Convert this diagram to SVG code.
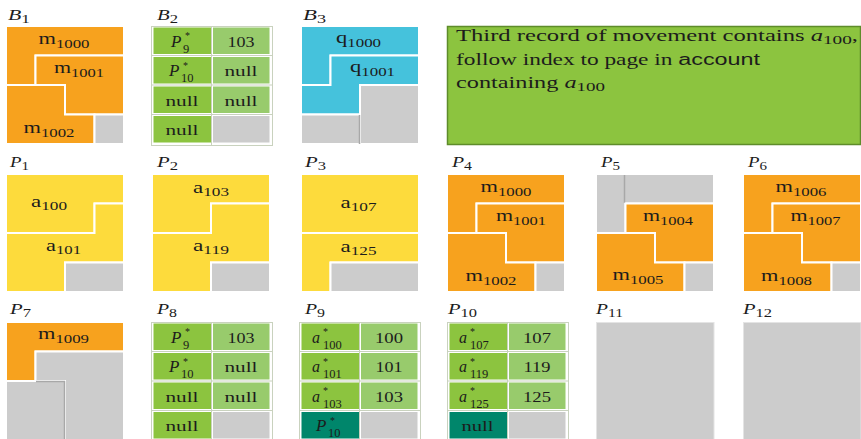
<svg xmlns="http://www.w3.org/2000/svg" width="861" height="439" viewBox="0 0 861 439">
<style>
.t{font-family:"Liberation Serif","Times New Roman",serif;font-size:16px;fill:#1c1c1c}
.it{font-style:italic}
.sb{font-size:12px;font-style:normal}
.st{font-size:10px;font-style:normal}
.su{font-size:12.5px;font-style:normal}
.ss{font-family:"Liberation Sans",Arial,sans-serif}
.lb{font-size:15px;font-style:italic}
.tx{font-size:15px}
.bp{font-size:17px;font-style:italic}
.or{fill:#F7A21E}.ye{fill:#FDDB3C}.cy{fill:#45C2DC}.gy{fill:#CCCCCC}
.dg{fill:#8CC43F}.lg{fill:#98CB6C}.tl{fill:#00866B}
.r{stroke:#fff;stroke-width:2}
.dk{stroke:#A8A8A8;stroke-width:1.5;fill:none}
.frame{fill:none;stroke:#C9D2BE;stroke-width:1}
</style>
<rect width="861" height="439" fill="#fff"/>
<g id="connectors"/>

<!-- B1 -->
<g id="B1" transform="translate(6,26)">
<text class="t lb" x="2" y="-6" textLength="22" lengthAdjust="spacingAndGlyphs">B<tspan class="sb" dy="3">1</tspan></text>
<polygon class="or r" points="0,0 118,0 118,29.5 29.5,29.5 29.5,59 0,59"/>
<polygon class="or r" points="29.5,29.5 118,29.5 118,88.5 59,88.5 59,59 29.5,59"/>
<polygon class="or r" points="0,59 59,59 59,88.5 88.5,88.5 88.5,118 0,118"/>
<rect class="gy r" x="88.5" y="88.5" width="29.5" height="29.5"/>
<text class="t" x="58" y="17.5" text-anchor="middle" textLength="51" lengthAdjust="spacingAndGlyphs">m<tspan class="sb" dy="4">1000</tspan></text>
<text class="t" x="73" y="46.5" text-anchor="middle" textLength="50" lengthAdjust="spacingAndGlyphs">m<tspan class="sb" dy="4">1001</tspan></text>
<text class="t" x="43" y="107" text-anchor="middle" textLength="51" lengthAdjust="spacingAndGlyphs">m<tspan class="sb" dy="4">1002</tspan></text>
</g>

<!-- B2 -->
<g id="B2" transform="translate(151,26)">
<text class="t lb" x="6" y="-6" textLength="21" lengthAdjust="spacingAndGlyphs">B<tspan class="sb" dy="3">2</tspan></text>
<rect class="frame" x="0.5" y="0.5" width="121" height="119"/>
<path class="frame" d="M60.5 0.5V119.5M0.5 29.5H121.5M0.5 59H121.5M0.5 88.5H121.5"/>
<rect class="dg" x="2.5" y="1.5" width="57.5" height="26.5"/><rect class="lg" x="62" y="1.5" width="56.5" height="26.5"/>
<rect class="dg" x="2.5" y="31" width="57.5" height="26.5"/><rect class="lg" x="62" y="31" width="56.5" height="26.5"/>
<rect class="dg" x="2.5" y="60.5" width="57.5" height="26.5"/><rect class="lg" x="62" y="60.5" width="56.5" height="26.5"/>
<rect class="dg" x="2.5" y="90" width="57.5" height="26.5"/><rect class="gy" x="62" y="90" width="56.5" height="26.5"/>
<text class="t bp" x="20" y="20.5">P<tspan class="st" x="34" y="13">*</tspan><tspan class="su" x="32" y="26.5">9</tspan></text>
<text class="t tx" x="90" y="20.5" text-anchor="middle" textLength="27" lengthAdjust="spacingAndGlyphs">103</text>
<text class="t bp" x="18" y="50">P<tspan class="st" x="32" y="42.5">*</tspan><tspan class="su" x="30" y="56">10</tspan></text>
<text class="t tx" x="90" y="50" text-anchor="middle" textLength="33" lengthAdjust="spacingAndGlyphs">null</text>
<text class="t tx" x="31" y="79.5" text-anchor="middle" textLength="33" lengthAdjust="spacingAndGlyphs">null</text>
<text class="t tx" x="90" y="79.5" text-anchor="middle" textLength="33" lengthAdjust="spacingAndGlyphs">null</text>
<text class="t tx" x="31" y="109" text-anchor="middle" textLength="33" lengthAdjust="spacingAndGlyphs">null</text>
</g>

<!-- B3 -->
<g id="B3" transform="translate(301,26)">
<text class="t lb" x="2" y="-6" textLength="23" lengthAdjust="spacingAndGlyphs">B<tspan class="sb" dy="3">3</tspan></text>
<polygon class="cy r" points="0,0 118,0 118,29.5 29.5,29.5 29.5,59 0,59"/>
<polygon class="cy r" points="29.5,29.5 118,29.5 118,59 59,59 59,88.5 0,88.5 0,59 29.5,59"/>
<rect class="gy r" x="59" y="59" width="59" height="59"/>
<rect class="gy r" x="0" y="88.5" width="59" height="29.5"/>
<path class="dk" d="M58.5 89V118"/>
<text class="t" x="57.5" y="17" text-anchor="middle" textLength="45" lengthAdjust="spacingAndGlyphs">q<tspan class="sb" dy="4">1000</tspan></text>
<text class="t" x="71.5" y="46" text-anchor="middle" textLength="45" lengthAdjust="spacingAndGlyphs">q<tspan class="sb" dy="4">1001</tspan></text>
</g>

<!-- note -->
<g id="note">
<rect x="447.5" y="26.5" width="413" height="118" fill="#8CC43F" stroke="#5E8C2A" stroke-width="1.5"/>
<text class="t" x="456" y="41" font-size="17" textLength="402" lengthAdjust="spacingAndGlyphs">Third record of movement contains <tspan class="it">a</tspan><tspan font-size="12.5" dy="3">100</tspan><tspan dy="-3">,</tspan></text>
<text class="t" x="456" y="65" font-size="17" textLength="304" lengthAdjust="spacingAndGlyphs">follow index to page in <tspan class="ss">account</tspan></text>
<text class="t" x="456" y="88" font-size="17" textLength="149" lengthAdjust="spacingAndGlyphs">containing <tspan class="it">a</tspan><tspan font-size="12.5" dy="3">100</tspan></text>
</g>

<!-- P1 -->
<g id="P1" transform="translate(6,174)">
<text class="t lb" x="4" y="-7" textLength="19" lengthAdjust="spacingAndGlyphs">P<tspan class="sb" dy="3">1</tspan></text>
<polygon class="ye r" points="0,0 118,0 118,29.5 88.5,29.5 88.5,59 0,59"/>
<polygon class="ye r" points="88.5,29.5 118,29.5 118,88.5 59,88.5 59,118 0,118 0,59 88.5,59"/>
<rect class="gy r" x="59" y="88.5" width="59" height="29.5"/>
<text class="t" x="43" y="33" text-anchor="middle" textLength="36" lengthAdjust="spacingAndGlyphs">a<tspan class="sb" dy="3">100</tspan></text>
<text class="t" x="57.5" y="77" text-anchor="middle" textLength="35" lengthAdjust="spacingAndGlyphs">a<tspan class="sb" dy="3">101</tspan></text>
</g>

<!-- P2 -->
<g id="P2" transform="translate(152,174)">
<text class="t lb" x="5" y="-7" textLength="21" lengthAdjust="spacingAndGlyphs">P<tspan class="sb" dy="3">2</tspan></text>
<polygon class="ye r" points="0,0 118,0 118,29.5 59,29.5 59,59 0,59"/>
<polygon class="ye r" points="59,29.5 118,29.5 118,88.5 59,88.5 59,118 0,118 0,59 59,59"/>
<rect class="gy r" x="59" y="88.5" width="59" height="29.5"/>
<text class="t" x="59" y="19" text-anchor="middle" textLength="36" lengthAdjust="spacingAndGlyphs">a<tspan class="sb" dy="3">103</tspan></text>
<text class="t" x="59" y="77" text-anchor="middle" textLength="36" lengthAdjust="spacingAndGlyphs">a<tspan class="sb" dy="3">119</tspan></text>
</g>

<!-- P3 -->
<g id="P3" transform="translate(301,174)">
<text class="t lb" x="4" y="-7" textLength="21" lengthAdjust="spacingAndGlyphs">P<tspan class="sb" dy="3">3</tspan></text>
<rect class="ye r" x="0" y="0" width="118" height="59"/>
<polygon class="ye r" points="0,59 118,59 118,88.5 29.5,88.5 29.5,118 0,118"/>
<rect class="gy r" x="29.5" y="88.5" width="88.5" height="29.5"/>
<text class="t" x="57.5" y="33.5" text-anchor="middle" textLength="36" lengthAdjust="spacingAndGlyphs">a<tspan class="sb" dy="3">107</tspan></text>
<text class="t" x="57.5" y="77.5" text-anchor="middle" textLength="36" lengthAdjust="spacingAndGlyphs">a<tspan class="sb" dy="3">125</tspan></text>
</g>

<!-- P4 -->
<g id="P4" transform="translate(447,174)">
<text class="t lb" x="5" y="-7" textLength="20" lengthAdjust="spacingAndGlyphs">P<tspan class="sb" dy="3">4</tspan></text>
<polygon class="or r" points="0,0 118,0 118,29.5 29.5,29.5 29.5,59 0,59"/>
<polygon class="or r" points="29.5,29.5 118,29.5 118,88.5 59,88.5 59,59 29.5,59"/>
<polygon class="or r" points="0,59 59,59 59,88.5 88.5,88.5 88.5,118 0,118"/>
<rect class="gy r" x="88.5" y="88.5" width="29.5" height="29.5"/>
<text class="t" x="59" y="17.5" text-anchor="middle" textLength="51" lengthAdjust="spacingAndGlyphs">m<tspan class="sb" dy="4">1000</tspan></text>
<text class="t" x="74" y="46.5" text-anchor="middle" textLength="50" lengthAdjust="spacingAndGlyphs">m<tspan class="sb" dy="4">1001</tspan></text>
<text class="t" x="44" y="107" text-anchor="middle" textLength="51" lengthAdjust="spacingAndGlyphs">m<tspan class="sb" dy="4">1002</tspan></text>
</g>

<!-- P5 -->
<g id="P5" transform="translate(596,174)">
<text class="t lb" x="5" y="-7" textLength="19" lengthAdjust="spacingAndGlyphs">P<tspan class="sb" dy="3">5</tspan></text>
<polygon class="gy r" points="0,0 118,0 118,29.5 29.5,29.5 29.5,59 0,59"/>
<path class="dk" d="M28.5 1V29"/>
<polygon class="or r" points="29.5,29.5 118,29.5 118,88.5 59,88.5 59,59 29.5,59"/>
<polygon class="or r" points="0,59 59,59 59,88.5 88.5,88.5 88.5,118 0,118"/>
<rect class="gy r" x="88.5" y="88.5" width="29.5" height="29.5"/>
<text class="t" x="72" y="46.5" text-anchor="middle" textLength="50" lengthAdjust="spacingAndGlyphs">m<tspan class="sb" dy="4">1004</tspan></text>
<text class="t" x="42" y="106" text-anchor="middle" textLength="51" lengthAdjust="spacingAndGlyphs">m<tspan class="sb" dy="4">1005</tspan></text>
</g>

<!-- P6 -->
<g id="P6" transform="translate(743,174)">
<text class="t lb" x="5" y="-7" textLength="19" lengthAdjust="spacingAndGlyphs">P<tspan class="sb" dy="3">6</tspan></text>
<polygon class="or r" points="0,0 118,0 118,29.5 29.5,29.5 29.5,59 0,59"/>
<polygon class="or r" points="29.5,29.5 118,29.5 118,88.5 59,88.5 59,59 29.5,59"/>
<polygon class="or r" points="0,59 59,59 59,88.5 88.5,88.5 88.5,118 0,118"/>
<rect class="gy r" x="88.5" y="88.5" width="29.5" height="29.5"/>
<text class="t" x="58" y="17.5" text-anchor="middle" textLength="51" lengthAdjust="spacingAndGlyphs">m<tspan class="sb" dy="4">1006</tspan></text>
<text class="t" x="72.5" y="46.5" text-anchor="middle" textLength="50" lengthAdjust="spacingAndGlyphs">m<tspan class="sb" dy="4">1007</tspan></text>
<text class="t" x="43.5" y="107" text-anchor="middle" textLength="51" lengthAdjust="spacingAndGlyphs">m<tspan class="sb" dy="4">1008</tspan></text>
</g>

<!-- P7 -->
<g id="P7" transform="translate(6,322)">
<text class="t lb" x="4" y="-8" textLength="21" lengthAdjust="spacingAndGlyphs">P<tspan class="sb" dy="3">7</tspan></text>
<polygon class="or r" points="0,0 118,0 118,29.5 29.5,29.5 29.5,59 0,59"/>
<polygon class="gy r" points="29.5,29.5 118,29.5 118,118 59,118 59,59 29.5,59"/>
<rect class="gy r" x="0" y="59" width="59" height="59"/>
<path class="dk" d="M30 59.5H58.5V118"/>
<text class="t" x="57.5" y="17" text-anchor="middle" textLength="51" lengthAdjust="spacingAndGlyphs">m<tspan class="sb" dy="4">1009</tspan></text>
</g>

<!-- P8 -->
<g id="P8" transform="translate(151,322)">
<text class="t lb" x="6" y="-8" textLength="20" lengthAdjust="spacingAndGlyphs">P<tspan class="sb" dy="3">8</tspan></text>
<rect class="frame" x="0.5" y="0.5" width="121" height="119"/>
<path class="frame" d="M60.5 0.5V119.5M0.5 29.5H121.5M0.5 59H121.5M0.5 88.5H121.5"/>
<rect class="dg" x="2.5" y="1.5" width="57.5" height="26.5"/><rect class="lg" x="62" y="1.5" width="56.5" height="26.5"/>
<rect class="dg" x="2.5" y="31" width="57.5" height="26.5"/><rect class="lg" x="62" y="31" width="56.5" height="26.5"/>
<rect class="dg" x="2.5" y="60.5" width="57.5" height="26.5"/><rect class="lg" x="62" y="60.5" width="56.5" height="26.5"/>
<rect class="dg" x="2.5" y="90" width="57.5" height="26.5"/><rect class="gy" x="62" y="90" width="56.5" height="26.5"/>
<text class="t bp" x="20" y="20.5">P<tspan class="st" x="34" y="13">*</tspan><tspan class="su" x="32" y="26.5">9</tspan></text>
<text class="t tx" x="90" y="20.5" text-anchor="middle" textLength="27" lengthAdjust="spacingAndGlyphs">103</text>
<text class="t bp" x="18" y="50">P<tspan class="st" x="32" y="42.5">*</tspan><tspan class="su" x="30" y="56">10</tspan></text>
<text class="t tx" x="90" y="50" text-anchor="middle" textLength="33" lengthAdjust="spacingAndGlyphs">null</text>
<text class="t tx" x="31" y="79.5" text-anchor="middle" textLength="33" lengthAdjust="spacingAndGlyphs">null</text>
<text class="t tx" x="90" y="79.5" text-anchor="middle" textLength="33" lengthAdjust="spacingAndGlyphs">null</text>
<text class="t tx" x="31" y="109" text-anchor="middle" textLength="33" lengthAdjust="spacingAndGlyphs">null</text>
</g>

<!-- P9 -->
<g id="P9" transform="translate(299,322)">
<text class="t lb" x="6" y="-8" textLength="20" lengthAdjust="spacingAndGlyphs">P<tspan class="sb" dy="3">9</tspan></text>
<rect class="frame" x="0.5" y="0.5" width="121" height="119"/>
<path class="frame" d="M60.5 0.5V119.5M0.5 29.5H121.5M0.5 59H121.5M0.5 88.5H121.5"/>
<rect class="dg" x="2.5" y="1.5" width="57.5" height="26.5"/><rect class="lg" x="62" y="1.5" width="56.5" height="26.5"/>
<rect class="dg" x="2.5" y="31" width="57.5" height="26.5"/><rect class="lg" x="62" y="31" width="56.5" height="26.5"/>
<rect class="dg" x="2.5" y="60.5" width="57.5" height="26.5"/><rect class="lg" x="62" y="60.5" width="56.5" height="26.5"/>
<rect class="tl" x="2.5" y="90" width="57.5" height="26.5"/><rect class="gy" x="62" y="90" width="56.5" height="26.5"/>
<text class="t it" x="13" y="20.5" font-size="17">a<tspan class="st" x="24" y="13">*</tspan><tspan class="su" x="24" y="26.5">100</tspan></text>
<text class="t tx" x="90" y="20.5" text-anchor="middle" textLength="28" lengthAdjust="spacingAndGlyphs">100</text>
<text class="t it" x="13" y="50" font-size="17">a<tspan class="st" x="24" y="42.5">*</tspan><tspan class="su" x="24" y="56">101</tspan></text>
<text class="t tx" x="90" y="50" text-anchor="middle" textLength="27" lengthAdjust="spacingAndGlyphs">101</text>
<text class="t it" x="13" y="79.5" font-size="17">a<tspan class="st" x="24" y="72">*</tspan><tspan class="su" x="24" y="85.5">103</tspan></text>
<text class="t tx" x="90" y="79.5" text-anchor="middle" textLength="28" lengthAdjust="spacingAndGlyphs">103</text>
<text class="t bp" x="17" y="109">P<tspan class="st" x="31" y="101.5">*</tspan><tspan class="su" x="29" y="115">10</tspan></text>
</g>

<!-- P10 -->
<g id="P10" transform="translate(447,322)">
<text class="t lb" x="1" y="-8" textLength="29" lengthAdjust="spacingAndGlyphs">P<tspan class="sb" dy="3">10</tspan></text>
<rect class="frame" x="0.5" y="0.5" width="121" height="119"/>
<path class="frame" d="M60.5 0.5V119.5M0.5 29.5H121.5M0.5 59H121.5M0.5 88.5H121.5"/>
<rect class="dg" x="2.5" y="1.5" width="57.5" height="26.5"/><rect class="lg" x="62" y="1.5" width="56.5" height="26.5"/>
<rect class="dg" x="2.5" y="31" width="57.5" height="26.5"/><rect class="lg" x="62" y="31" width="56.5" height="26.5"/>
<rect class="dg" x="2.5" y="60.5" width="57.5" height="26.5"/><rect class="lg" x="62" y="60.5" width="56.5" height="26.5"/>
<rect class="tl" x="2.5" y="90" width="57.5" height="26.5"/><rect class="gy" x="62" y="90" width="56.5" height="26.5"/>
<text class="t it" x="12" y="20.5" font-size="17">a<tspan class="st" x="23" y="13">*</tspan><tspan class="su" x="23" y="26.5">107</tspan></text>
<text class="t tx" x="90" y="20.5" text-anchor="middle" textLength="28" lengthAdjust="spacingAndGlyphs">107</text>
<text class="t it" x="12" y="50" font-size="17">a<tspan class="st" x="23" y="42.5">*</tspan><tspan class="su" x="23" y="56">119</tspan></text>
<text class="t tx" x="90" y="50" text-anchor="middle" textLength="27" lengthAdjust="spacingAndGlyphs">119</text>
<text class="t it" x="12" y="79.5" font-size="17">a<tspan class="st" x="23" y="72">*</tspan><tspan class="su" x="23" y="85.5">125</tspan></text>
<text class="t tx" x="90" y="79.5" text-anchor="middle" textLength="28" lengthAdjust="spacingAndGlyphs">125</text>
<text class="t tx" x="30.5" y="109" text-anchor="middle" textLength="32" lengthAdjust="spacingAndGlyphs">null</text>
</g>

<!-- P11 -->
<g id="P11" transform="translate(596,322)">
<text class="t lb" x="0" y="-8" textLength="27" lengthAdjust="spacingAndGlyphs">P<tspan class="sb" dy="3">11</tspan></text>
<rect class="gy" x="0.5" y="0.5" width="117.5" height="118" stroke="#E4E4E4" stroke-width="1"/>
</g>

<!-- P12 -->
<g id="P12" transform="translate(743,322)">
<text class="t lb" x="0" y="-8" textLength="29" lengthAdjust="spacingAndGlyphs">P<tspan class="sb" dy="3">12</tspan></text>
<rect class="gy" x="0.5" y="0.5" width="117.5" height="118" stroke="#E4E4E4" stroke-width="1"/>
</g>
</svg>
